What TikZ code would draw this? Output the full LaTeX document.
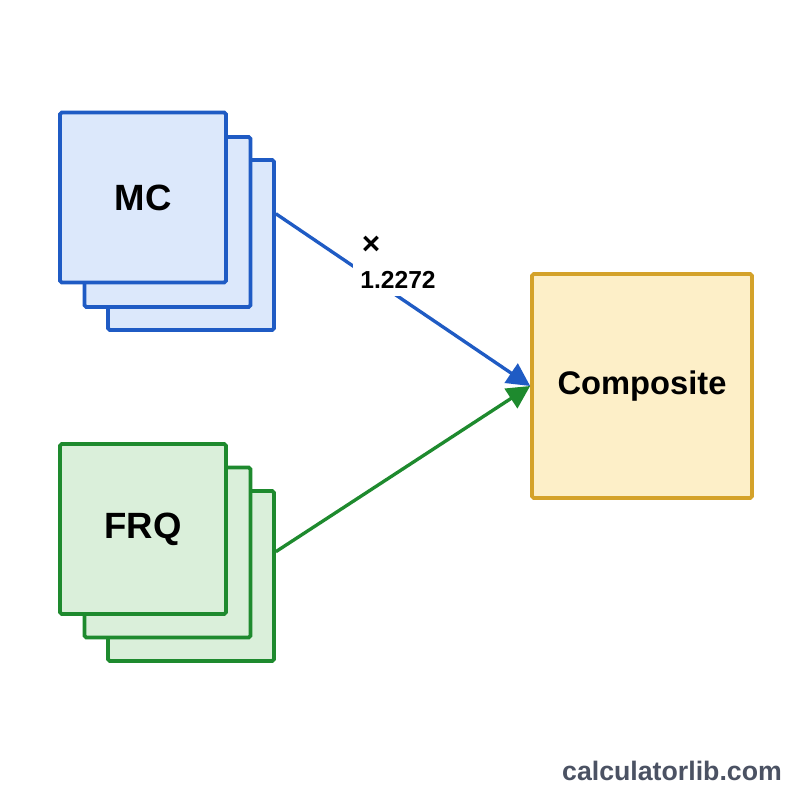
\documentclass[tikz,border=0pt]{standalone}
\usepackage{fontspec}
\setmainfont{Liberation Sans}
\usetikzlibrary{arrows.meta,calc}
\definecolor{mcblue}{HTML}{1F5BC4}
\definecolor{mcfill}{HTML}{DCE8FB}
\definecolor{frqgreen}{HTML}{1E8A2E}
\definecolor{frqfill}{HTML}{DAEFDA}
\definecolor{compgold}{HTML}{D4A22A}
\definecolor{compfill}{HTML}{FDEFC8}
\definecolor{markgray}{HTML}{4B5263}
\tikzset{
  sheet/.style={draw,line width=1.05pt,rounded corners=0.5pt,minimum width=1.66cm,minimum height=1.70cm,inner sep=0pt},
  mcsheet/.style={sheet,draw=mcblue,fill=mcfill},
  frqsheet/.style={sheet,draw=frqgreen,fill=frqfill},
  feed/.style={line width=0.95pt,-{Triangle[length=2.3mm,width=2.3mm]}}
}
\begin{document}
\begin{tikzpicture}[every node/.style={font=\bfseries}]
  \useasboundingbox[fill=white] (0,0) rectangle (8,8);
  % MC stack
  \node[mcsheet] (mc3) at (1.91,5.55) {};
  \node[mcsheet] (mc2) at (1.675,5.78) {};
  \node[mcsheet,font=\fontsize{10.4}{12}\bfseries] (mc1) at (1.43,6.025) {MC};
  % FRQ stack
  \node[frqsheet] (frq3) at (1.91,2.24) {};
  \node[frqsheet] (frq2) at (1.675,2.475) {};
  \node[frqsheet,font=\fontsize{10.4}{12}\bfseries] (frq1) at (1.43,2.71) {FRQ};
  % composite
  \node[draw=compgold,fill=compfill,line width=1.05pt,rounded corners=0.5pt,minimum width=2.2cm,minimum height=2.24cm,font=\fontsize{9.3}{12}\bfseries] (comp) at (6.42,4.14) {Composite};
  % connectors
  \coordinate (mcout) at ($(mc3.north east)!0.32!(mc3.south east)$);
  \coordinate (frqout) at ($(frq3.north east)!0.36!(frq3.south east)$);
  \draw[feed,mcblue] (mcout) -- (comp.west);
  \draw[feed,frqgreen] (frqout) -- (comp.west);
  \node[fill=white,inner sep=2pt,font=\fontsize{7}{9}\bfseries] (factor) at (3.98,5.20) {1.2272};
  \node[font=\fontsize{9}{10}\bfseries] (times) at (3.71,5.55) {×};
  % watermark
  \node[text=markgray,font=\fontsize{7.6}{9}\bfseries] (mark) at (6.72,0.29) {calculatorlib.com};
\end{tikzpicture}
\end{document}
